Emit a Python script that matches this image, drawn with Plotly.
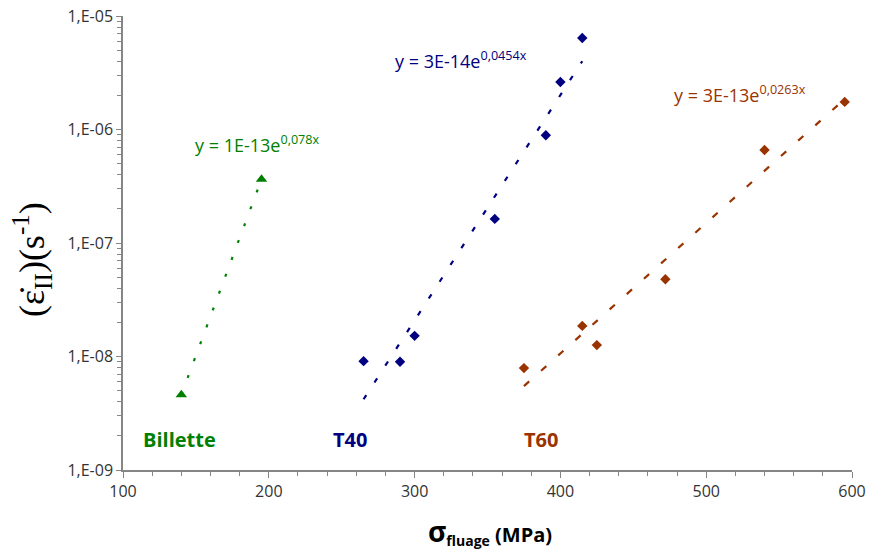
import numpy as np
import plotly.graph_objects as go

# ---- data ----
billette_x = [140, 195]
billette_y = [4.6e-9, 3.65e-7]

t40_x = [265, 290, 300, 355, 390, 400, 415]
t40_y = [9.1e-9, 9.0e-9, 1.52e-8, 1.63e-7, 8.9e-7, 2.62e-6, 6.4e-6]

t60_x = [375, 415, 425, 472, 540, 595]
t60_y = [7.9e-9, 1.86e-8, 1.26e-8, 4.8e-8, 6.6e-7, 1.75e-6]

series_names = ["Billette", "T40", "T60"]
equations = ["y = 1E-13e<sup>0,078x</sup>", "y = 3E-14e<sup>0,0454x</sup>", "y = 3E-13e<sup>0,0263x</sup>"]

y_tickvals = [1e-9, 1e-8, 1e-7, 1e-6, 1e-5]
y_ticktext = ["1,E-09", "1,E-08", "1,E-07", "1,E-06", "1,E-05"]
x_tickvals = [100, 200, 300, 400, 500, 600]

GREEN = "#008000"
BLUE = "#000080"
ORANGE = "#993300"
FONT = "Open Sans, sans-serif"

fig = go.Figure()


def exp_fit(xs, ys):
    b, a = np.polyfit(np.array(xs, float), np.log(np.array(ys, float)), 1)
    xx = np.linspace(min(xs), max(xs), 60)
    return xx, np.exp(a + b * xx)


def add_series(xs, ys, color, symbol, size, dash):
    fx, fy = exp_fit(xs, ys)
    fig.add_trace(go.Scatter(x=fx, y=fy, mode="lines",
                             line=dict(color=color, width=2.2, dash=dash),
                             showlegend=False, hoverinfo="skip"))
    fig.add_trace(go.Scatter(x=xs, y=ys, mode="markers",
                             marker=dict(color=color, symbol=symbol, size=size),
                             showlegend=False))


add_series(billette_x, billette_y, GREEN, "triangle-up", 10, "3px,15px")
add_series(t40_x, t40_y, BLUE, "diamond", 8, "5px,15px")
add_series(t60_x, t60_y, ORANGE, "diamond", 8, "7px,16px")

AX = "#868686"
fig.update_layout(
    width=876, height=554,
    margin=dict(l=123, r=24, t=16, b=84),
    paper_bgcolor="white", plot_bgcolor="white",
    font=dict(family=FONT, size=16, color="#333333"),
    xaxis=dict(range=[100, 600], tickvals=x_tickvals, ticks="outside", ticklen=6,
               tickcolor=AX, showline=True, linecolor=AX, linewidth=1.5,
               showgrid=False, zeroline=False, automargin=False,
               ticklabeloverflow="allow",
               tickfont=dict(family=FONT, size=16, color="#333333"),
               minor=dict(tickvals=[120, 140, 160, 180, 220, 240, 260, 280, 320, 340, 360, 380,
                                    420, 440, 460, 480, 520, 540, 560, 580],
                          ticks="outside", ticklen=4, tickcolor=AX)),
    yaxis=dict(type="log", range=[-9, -5], tickvals=y_tickvals, ticktext=y_ticktext,
               ticks="outside", ticklen=5, tickcolor=AX, showline=True,
               linecolor=AX, linewidth=1.5, showgrid=False, zeroline=False, automargin=False,
               ticklabeloverflow="allow",
               tickfont=dict(family=FONT, size=16, color="#333333"),
               minor=dict(tickvals=[m * 10.0 ** e for e in range(-9, -5) for m in range(2, 10)],
                          ticks="outside", ticklen=4, tickcolor=AX)),
)

# trendline equations
eq_pos = [(193, 144), (393, 60), (672, 94)]
colors = [GREEN, BLUE, ORANGE]
for (px, py), eq, c in zip(eq_pos, equations, colors):
    fig.add_annotation(text=eq, xref="paper", yref="paper",
                       x=(px - 123) / 729, y=(470 - py) / 454,
                       xanchor="left", yanchor="middle", showarrow=False,
                       font=dict(family=FONT, size=18, color=c))

# series labels
lab_pos = [(141, 439), (331, 439), (522, 439)]
for (px, py), name, c in zip(lab_pos, series_names, colors):
    fig.add_annotation(text="<b>" + name + "</b>", xref="paper", yref="paper",
                       x=(px - 123) / 729, y=(470 - py) / 454,
                       xanchor="left", yanchor="middle", showarrow=False,
                       font=dict(family=FONT, size=20, color=c))

# axis titles
fig.add_annotation(
    text="<b><span style='font-size:28px'>σ</span><sub>fluage</sub> (MPa)</b>",
    xref="paper", yref="paper", x=(490 - 123) / 729, y=-(531 - 470) / 454,
    xanchor="center", yanchor="middle", showarrow=False,
    font=dict(family=FONT, size=20, color="#000000"))

fig.add_annotation(
    text="(ε̇<sub>II</sub>)(s<sup>-1</sup>)",
    xref="paper", yref="paper", x=(32 - 123) / 729, y=(470 - 260) / 454,
    xanchor="center", yanchor="middle", textangle=-90, showarrow=False,
    font=dict(family="Liberation Serif, serif", size=36, color="#000000"))

fig.write_html("out.html", config={"displayModeBar": False},
               post_script="document.body.style.margin='0px';")
